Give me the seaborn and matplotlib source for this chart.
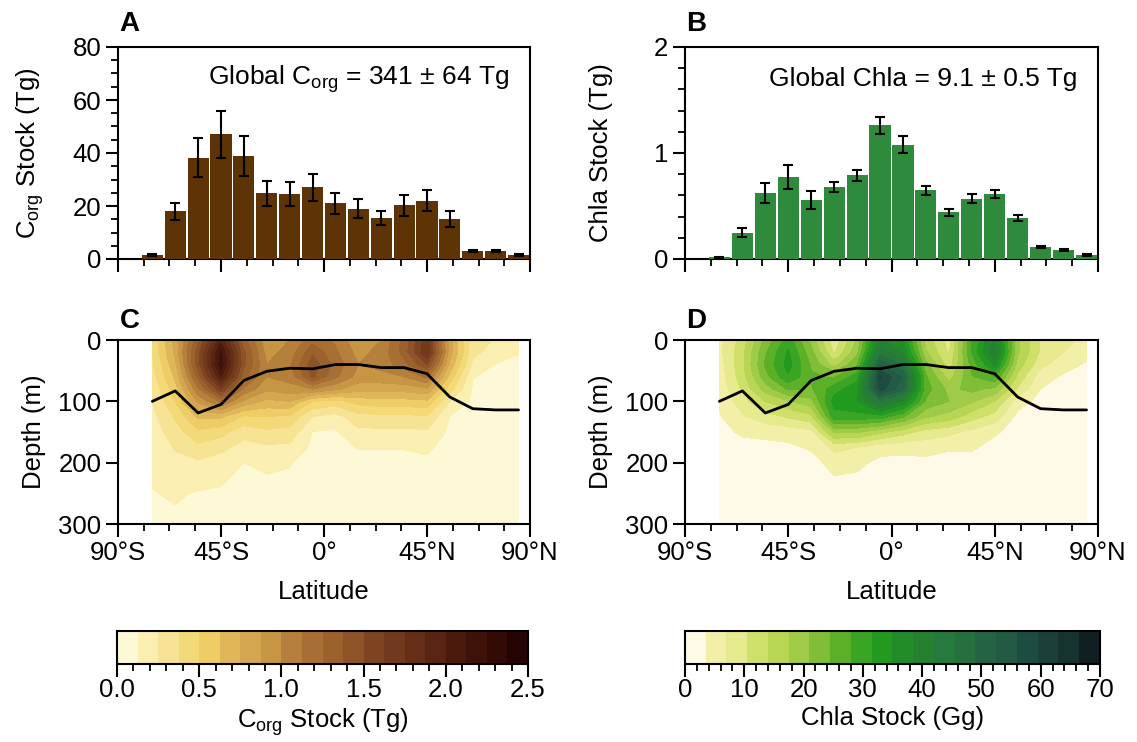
import numpy as np
import pandas as pd
import matplotlib
matplotlib.use("Agg")
import matplotlib.pyplot as plt
from matplotlib.colors import ListedColormap
from matplotlib.ticker import MultipleLocator, FixedLocator, FuncFormatter
import seaborn as sns

# ---------------------------------------------------------------- data
# latitude band centres (10-degree bands)
lat = [-75, -65, -55, -45, -35, -25, -15, -5, 5, 15, 25, 35, 45, 55, 65, 75, 85]

# zonal Corg stock per band (Tg) and its uncertainty
corg_stock = [1.5, 18, 38.3, 47, 39, 24.8, 24.5, 27, 21, 19, 15.5, 20.2, 22, 15, 3, 3, 1.5]
corg_err = [0.5, 3.3, 7.3, 9, 7.5, 4.7, 4.5, 5, 4, 3.5, 2.8, 3.8, 4, 3, 0.5, 0.5, 0.4]

# zonal Chla stock per band (Tg) and its uncertainty
chla_stock = [0.015, 0.25, 0.625, 0.775, 0.556, 0.68, 0.79, 1.26, 1.08, 0.65, 0.44,
              0.57, 0.615, 0.39, 0.11, 0.088, 0.04]
chla_err = [0.005, 0.04, 0.095, 0.115, 0.083, 0.047, 0.052, 0.08, 0.077, 0.043, 0.034,
            0.04, 0.04, 0.027, 0.01, 0.008, 0.008]

# mixed-layer depth per band (m)
mld = [100, 83, 119, 105, 66, 51, 46, 47, 40, 40, 45, 45, 55, 93, 112, 114, 114]

# depth levels of the sections (m)
depth = [0, 20, 40, 60, 80, 100, 125, 150, 175, 200, 250, 300]

# Corg stock section (Tg), one row per latitude band, one value per depth level
corg_section = [
    [0.40, 0.38, 0.35, 0.32, 0.28, 0.25, 0.21, 0.18, 0.16, 0.15, 0.12, 0.10],   # 75S
    [0.80, 0.78, 0.72, 0.65, 0.57, 0.50, 0.39, 0.32, 0.26, 0.22, 0.14, 0.10],   # 65S
    [1.35, 1.45, 1.45, 1.30, 1.10, 0.90, 0.65, 0.47, 0.34, 0.23, 0.115, 0.09],  # 55S
    [1.95, 2.15, 2.20, 2.00, 1.60, 1.15, 0.65, 0.42, 0.29, 0.18, 0.11, 0.09],   # 45S
    [1.30, 1.40, 1.40, 1.30, 1.10, 0.85, 0.48, 0.30, 0.20, 0.125, 0.10, 0.09],  # 35S
    [0.90, 0.95, 1.00, 1.00, 0.90, 0.72, 0.50, 0.35, 0.23, 0.14, 0.10, 0.09],   # 25S
    [1.00, 1.05, 1.10, 1.05, 0.95, 0.75, 0.47, 0.33, 0.22, 0.13, 0.10, 0.09],   # 15S
    [1.20, 1.35, 1.45, 1.40, 1.00, 0.50, 0.25, 0.12, 0.10, 0.09, 0.08, 0.08],   # 5S
    [1.10, 1.15, 1.20, 1.15, 0.90, 0.45, 0.20, 0.11, 0.09, 0.09, 0.08, 0.08],   # 5N
    [0.90, 0.95, 1.00, 0.95, 0.80, 0.55, 0.33, 0.22, 0.13, 0.10, 0.09, 0.08],   # 15N
    [1.00, 1.05, 1.05, 0.95, 0.80, 0.58, 0.34, 0.22, 0.13, 0.10, 0.09, 0.08],   # 25N
    [1.30, 1.30, 1.20, 1.00, 0.80, 0.58, 0.34, 0.22, 0.13, 0.10, 0.09, 0.08],   # 35N
    [1.70, 1.75, 1.50, 1.15, 0.85, 0.60, 0.36, 0.23, 0.14, 0.11, 0.09, 0.08],   # 45N
    [0.80, 0.80, 0.72, 0.58, 0.42, 0.25, 0.12, 0.10, 0.09, 0.09, 0.08, 0.08],   # 55N
    [0.30, 0.28, 0.22, 0.13, 0.11, 0.10, 0.09, 0.09, 0.08, 0.08, 0.08, 0.08],   # 65N
    [0.24, 0.20, 0.12, 0.10, 0.10, 0.09, 0.09, 0.08, 0.08, 0.08, 0.08, 0.08],   # 75N
    [0.20, 0.13, 0.10, 0.10, 0.09, 0.09, 0.08, 0.08, 0.08, 0.08, 0.08, 0.08],   # 85N
]

# Chla stock section (Gg)
chla_section = [
    [6, 6, 5.5, 5, 4.5, 4, 3.2, 2.5, 1.8, 1.2, 0.6, 0.3],        # 75S
    [12, 13, 13, 12.5, 11, 9, 6.5, 4, 2.5, 1.5, 0.8, 0.4],       # 65S
    [22, 24, 25, 23, 19, 14, 9, 4.5, 2.5, 1.5, 0.8, 0.4],        # 55S
    [30, 32, 33, 31, 25, 17, 11, 5, 2.8, 1.8, 0.9, 0.4],         # 45S
    [20, 22, 24, 25, 24, 20, 13, 6, 4, 2, 1, 0.5],               # 35S
    [8, 10, 16, 24, 30, 33, 30, 18, 8, 5, 1.5, 0.5],             # 25S
    [18, 20, 24, 30, 34, 35, 30, 18, 7, 4.5, 1.2, 0.5],          # 15S
    [40, 44, 52, 60, 58, 45, 30, 15, 5, 2.5, 1, 0.5],            # 5S
    [35, 38, 45, 52, 50, 38, 25, 12, 4.5, 2.5, 1, 0.5],          # 5N
    [16, 18, 22, 25, 26, 24, 18, 9, 5, 2.5, 1, 0.5],             # 15N
    [9, 10, 12, 16, 20, 21, 16, 8, 4, 2, 1, 0.5],                # 25N
    [28, 28, 26, 24, 22, 18, 12, 6, 4, 2, 0.9, 0.4],             # 35N
    [40, 42, 36, 28, 20, 14, 9, 4, 2.2, 1.5, 0.8, 0.4],          # 45N
    [18, 18, 16, 13, 10, 5, 2.5, 2, 1.2, 0.8, 0.5, 0.3],         # 55N
    [10, 10, 8, 5, 3.5, 2.5, 1.5, 1, 0.7, 0.5, 0.3, 0.2],        # 65N
    [8, 7, 5, 3, 2, 1.5, 1, 0.7, 0.5, 0.4, 0.3, 0.2],            # 75N
    [6, 5, 3, 2, 1.5, 1, 0.8, 0.6, 0.5, 0.4, 0.3, 0.2],          # 85N
]

lat_ticks = [-90, -45, 0, 45, 90]
lat_ticklabels = ["90°S", "45°S", "0°", "45°N", "90°N"]

# ---------------------------------------------------------------- style
brown_colors = ["#fdf8d5", "#faeeb0", "#f6e494", "#f3d978", "#efcd66", "#e0b65a",
                "#d4a64f", "#c79645", "#b5803b", "#a86f35", "#9b622d", "#8c5427",
                "#7c4421", "#713a1c", "#662e17", "#5a2412", "#4c1a0d", "#3f1209",
                "#320a06", "#250404"]
green_colors = ["#fffae8", "#f4efa8", "#e6e98e", "#cfe06a", "#b8d553", "#a0cb48",
                "#7fbe36", "#5cb028", "#3aa524", "#22991f", "#238c2a", "#25802f",
                "#277a3e", "#267040", "#246444", "#225a44", "#1d4d40", "#1a4038",
                "#163330", "#121f22"]
cmap_corg = ListedColormap(brown_colors)
cmap_chla = ListedColormap(green_colors)
levels_corg = np.linspace(0, 2.5, 21)
levels_chla = np.linspace(0, 70, 21)

sns.set_theme(style="ticks")
plt.rcParams["font.family"] = ["Liberation Sans", "DejaVu Sans"]
plt.rcParams["mathtext.fontset"] = "custom"
plt.rcParams["mathtext.rm"] = "Liberation Sans"
plt.rcParams["mathtext.it"] = "Liberation Sans:italic"
plt.rcParams["mathtext.bf"] = "Liberation Sans:bold"
plt.rcParams["axes.linewidth"] = 1.5
plt.rcParams["axes.edgecolor"] = "black"
FS = 18.5

W, H = 1137, 742
fig = plt.figure(figsize=(W / 100, H / 100), dpi=100)


def box(x0, y0, x1, y1):
    return [x0 / W, 1 - y1 / H, (x1 - x0) / W, (y1 - y0) / H]


axA = fig.add_axes(box(118, 47, 530, 259))
axB = fig.add_axes(box(685, 47, 1098, 259))
axC = fig.add_axes(box(118, 340, 530, 524))
axD = fig.add_axes(box(685, 340, 1098, 524))
caxC = fig.add_axes(box(117, 631, 528, 664))
caxD = fig.add_axes(box(685, 631, 1100, 664))


def style_lat_axis(ax, labels=True):
    ax.set_xlim(-90, 90)
    ax.xaxis.set_major_locator(FixedLocator(lat_ticks))
    ax.xaxis.set_minor_locator(MultipleLocator(11.25))
    if labels:
        ax.set_xticklabels(lat_ticklabels)
    else:
        ax.set_xticklabels([])
    ax.tick_params(axis="both", which="major", direction="out", length=9, width=1.5,
                   labelsize=FS, color="black", labelcolor="black", pad=3)
    ax.tick_params(axis="both", which="minor", direction="out", length=5, width=1.3,
                   color="black")
    ax.tick_params(top=False, right=False, which="both")
    for s in ax.spines.values():
        s.set_visible(True)
        s.set_linewidth(1.5)
        s.set_color("black")


def panel_letter(ax, letter, rise):
    ax.annotate(letter, xy=(0, 1), xycoords="axes fraction", xytext=(1, rise),
                textcoords="offset points", ha="left", va="bottom",
                fontsize=FS + 1.5, fontweight="bold", color="black")


# ---------------------------------------------------------------- bars
def bar_panel(ax, values, errors, color, ymax, major, minor, ylabel, note, letter):
    df = pd.DataFrame({"lat": lat, "stock": values})
    sns.barplot(data=df, x="lat", y="stock", native_scale=True, width=0.92,
                color=color, saturation=1, errorbar=None, ax=ax,
                edgecolor="none", linewidth=0, zorder=3)
    ax.errorbar(lat, values, yerr=errors, fmt="none", ecolor="black",
                elinewidth=1.5, capsize=3.5, capthick=1.5, zorder=4)
    style_lat_axis(ax, labels=False)
    ax.set_ylim(0, ymax)
    ax.yaxis.set_major_locator(MultipleLocator(major))
    ax.yaxis.set_minor_locator(MultipleLocator(minor))
    ax.set_xlabel("")
    ax.set_ylabel(ylabel, fontsize=FS, color="black")
    ax.yaxis.set_label_coords(-0.175, 0.5)
    ax.text(0.95, 0.85, note, transform=ax.transAxes, ha="right", va="center",
            fontsize=FS + 0.5, color="black")
    panel_letter(ax, letter, 7)


bar_panel(axA, corg_stock, corg_err, "#5e3306", 80, 20, 5,
          r"C$_{\mathrm{org}}$ Stock (Tg)",
          r"Global C$_{\mathrm{org}}$ = 341 ± 64 Tg", "A")
bar_panel(axB, chla_stock, chla_err, "#2e8b3c", 2, 1, 0.2,
          "Chla Stock (Tg)", "Global Chla = 9.1 ± 0.5 Tg", "B")


# ---------------------------------------------------------------- sections
def section_panel(ax, cax, section, cmap, levels, letter, cticks, cminor, cfmt, clabel):
    Z = np.array(section).T
    cf = ax.contourf(lat, depth, Z, levels=levels, cmap=cmap, zorder=1)
    sns.lineplot(x=lat, y=mld, color="black", linewidth=2, ax=ax, zorder=3)
    style_lat_axis(ax, labels=True)
    ax.set_ylim(300, 0)
    ax.yaxis.set_major_locator(FixedLocator([0, 100, 200, 300]))
    ax.yaxis.set_minor_locator(FixedLocator([]))
    ax.set_xlabel("Latitude", fontsize=FS, color="black", labelpad=11)
    ax.set_ylabel("Depth (m)", fontsize=FS, color="black")
    ax.yaxis.set_label_coords(-0.175, 0.5)
    panel_letter(ax, letter, 4)

    cb = fig.colorbar(cf, cax=cax, orientation="horizontal")
    cb.outline.set_linewidth(1.5)
    cb.outline.set_edgecolor("black")
    cb.set_ticks(cticks)
    cb.ax.xaxis.set_major_formatter(FuncFormatter(lambda v, p: cfmt.format(v)))
    cb.ax.xaxis.set_minor_locator(MultipleLocator(cminor))
    cb.ax.tick_params(which="major", direction="out", length=9, width=1.5,
                      labelsize=FS, color="black", labelcolor="black", pad=1)
    cb.ax.tick_params(which="minor", direction="out", length=5, width=1.3,
                      color="black")
    cb.set_label(clabel, fontsize=FS, color="black", labelpad=3)


section_panel(axC, caxC, corg_section, cmap_corg, levels_corg, "C",
              np.arange(0, 2.51, 0.5), 0.1, "{:.1f}",
              r"C$_{\mathrm{org}}$ Stock (Tg)")
section_panel(axD, caxD, chla_section, cmap_chla, levels_chla, "D",
              np.arange(0, 71, 10), 2, "{:.0f}", "Chla Stock (Gg)")

fig.savefig("out.png", dpi=100, facecolor="white")
